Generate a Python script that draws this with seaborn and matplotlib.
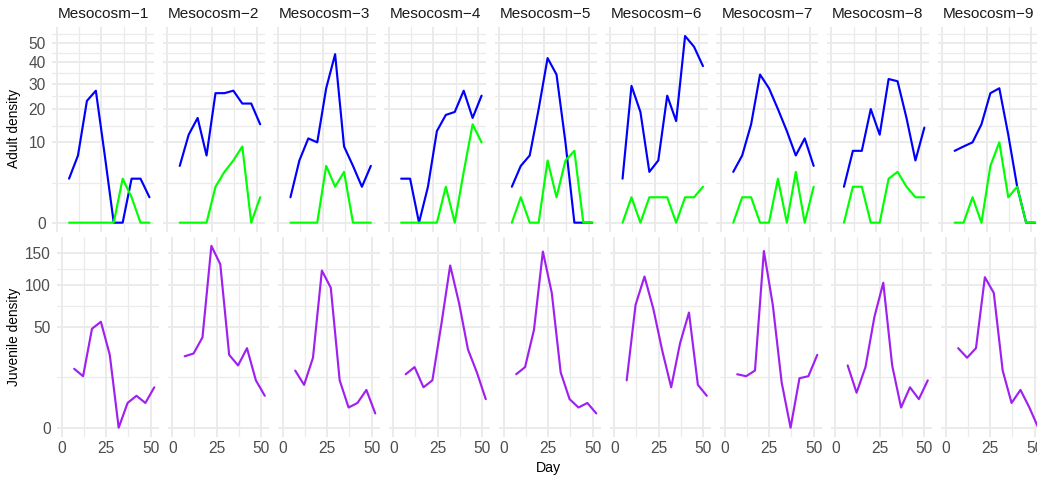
import numpy as np
import pandas as pd
import matplotlib
matplotlib.use("Agg")
import matplotlib.pyplot as plt
from matplotlib.ticker import FixedLocator, NullFormatter
import seaborn as sns

# ---- data -------------------------------------------------------------
mesocosms = [f"Mesocosm\u2212{i}" for i in range(1, 10)]
days = [7, 12, 17, 22, 27, 32, 37, 42, 47, 52]

# adult density, blue series (one row per mesocosm)
adult_blue = [
    [3, 7, 23, 27, 7, 0, 0, 3, 3, 1],
    [5, 12, 17, 7, 26, 26, 27, 22, 22, 15],
    [1, 6, 11, 10, 28, 44, 9, 5, 2, 5],
    [3, 3, 0, 2, 13, 18, 19, 27, 17, 25],
    [2, 5, 7, 20, 42, 34, 10, 0, 0, 0],
    [3, 29, 19, 4, 6, 25, 16, 54, 48, 38],
    [4, 7, 15, 34, 28, 20, 13, 7, 11, 5],
    [2, 8, 8, 20, 12, 32, 31, 17, 6, 14],
    [8, 9, 10, 15, 26, 28, 12, 2, 0, 0],
]

# adult density, green series
adult_green = [
    [0, 0, 0, 0, 0, 0, 3, 1, 0, 0],
    [0, 0, 0, 0, 2, 4, 6, 9, 0, 1],
    [0, 0, 0, 0, 5, 2, 4, 0, 0, 0],
    [0, 0, 0, 0, 0, 2, 0, 4, 15, 10],
    [0, 1, 0, 0, 6, 1, 6, 8, 0, 0],
    [0, 1, 0, 1, 1, 1, 0, 1, 1, 2],
    [0, 1, 1, 0, 0, 3, 0, 4, 0, 2],
    [0, 2, 2, 0, 0, 3, 4, 2, 1, 1],
    [0, 0, 1, 0, 5, 10, 1, 2, 0, 0],
]

# juvenile density
juvenile = [
    [17, 13, 48, 55, 26, 0, 3, 5, 3, 8],
    [25, 27, 40, 162, 131, 26, 19, 31, 11, 5],
    [16, 9, 24, 121, 96, 11, 2, 3, 7, 1],
    [14, 18, 8, 11, 52, 129, 76, 30, 15, 4],
    [14, 18, 47, 152, 89, 15, 4, 2, 3, 1],
    [11, 74, 112, 69, 29, 8, 35, 65, 9, 5],
    [14, 13, 16, 153, 74, 10, 0, 12, 13, 26],
    [19, 6, 18, 60, 103, 19, 2, 8, 4, 11],
    [31, 24, 31, 111, 89, 16, 3, 7, 2, 0],
]

adult_ticks = [0, 10, 20, 30, 40, 50]
juvenile_ticks = [0, 50, 100, 150]
day_ticks = [0, 25, 50]

# ---- long tables ------------------------------------------------------
rows = []
for m, name in enumerate(mesocosms):
    for d, b, g in zip(days, adult_blue[m], adult_green[m]):
        rows.append((name, d, "blue", b))
        rows.append((name, d, "green", g))
adults = pd.DataFrame(rows, columns=["Mesocosm", "Day", "Series", "Density"])

rows = []
for m, name in enumerate(mesocosms):
    for d, j in zip(days, juvenile[m]):
        rows.append((name, d, j))
juveniles = pd.DataFrame(rows, columns=["Mesocosm", "Day", "Density"])

# ---- style ------------------------------------------------------------
sns.set_style("white")
plt.rcParams["font.family"] = ["Liberation Sans", "DejaVu Sans"]

W, H = 1037, 480
fig = plt.figure(figsize=(W / 100, H / 100), dpi=100)


def fwd(v):
    v = np.asarray(v, dtype=float)
    return np.sign(v) * np.sqrt(np.abs(v))


def inv(v):
    v = np.asarray(v, dtype=float)
    return np.sign(v) * v ** 2


GRID = "#EBEBEB"
TICK_COL = "#4D4D4D"
LW = 1.55


def add_ax(left, top, width, height):
    return fig.add_axes([left / W, (H - top - height) / H, width / W, height / H])


def style_axis(ax, vmax, yticks, show_y, show_x):
    # sqrt scale with 5% padding in transformed space
    smax = np.sqrt(vmax)
    ax.set_yscale("function", functions=(fwd, inv))
    ax.set_ylim(inv(-0.05 * smax), inv(1.05 * smax))
    xlo, xhi = 0, max(days)
    span = xhi - xlo
    ax.set_xlim(xlo - 0.05 * span, xhi + 0.05 * span)

    s = np.sqrt(np.array(yticks, dtype=float))
    mids = list((s[:-1] + s[1:]) / 2) + [s[-1] + (s[-1] - s[-2]) / 2]
    ax.yaxis.set_major_locator(FixedLocator(yticks))
    ax.yaxis.set_minor_locator(FixedLocator([m ** 2 for m in mids]))
    ax.xaxis.set_major_locator(FixedLocator(day_ticks))
    ax.xaxis.set_minor_locator(FixedLocator([12.5, 37.5]))
    ax.yaxis.set_minor_formatter(NullFormatter())
    ax.xaxis.set_minor_formatter(NullFormatter())

    ax.grid(True, which="major", color=GRID, linewidth=1.4)
    ax.grid(True, which="minor", color=GRID, linewidth=0.9)
    ax.set_axisbelow(True)
    for sp in ax.spines.values():
        sp.set_visible(False)
    ax.tick_params(which="both", length=0)
    ax.tick_params(axis="y", labelsize=11.2, labelcolor=TICK_COL, pad=4.5,
                   labelleft=show_y)
    ax.tick_params(axis="x", labelsize=11.2, labelcolor=TICK_COL, pad=3,
                   labelbottom=show_x)
    ax.set_xlabel("")
    ax.set_ylabel("")


adult_max = adults["Density"].max()
juv_max = juveniles["Density"].max()

for i, name in enumerate(mesocosms):
    # adult row
    ax = add_ax(51.9 + i * 110.7, 26.7, 102.2, 205.3)
    sns.lineplot(data=adults[adults["Mesocosm"] == name], x="Day", y="Density",
                 hue="Series", hue_order=["blue", "green"],
                 palette={"blue": "#0000FF", "green": "#00FF00"},
                 estimator=None, sort=False, linewidth=LW, legend=False, ax=ax)
    style_axis(ax, adult_max, adult_ticks, show_y=(i == 0), show_x=False)
    ax.set_title(name, fontsize=11.1, color="#1A1A1A", pad=6)

    # juvenile row
    ax = add_ax(57.1 + i * 110.5, 236.8, 101.8, 200.0)
    sns.lineplot(data=juveniles[juveniles["Mesocosm"] == name], x="Day",
                 y="Density", color="#A020F0", estimator=None, sort=False,
                 linewidth=LW, ax=ax)
    style_axis(ax, juv_max, juvenile_ticks, show_y=(i == 0), show_x=True)

fig.text(14 / W, 1 - 129 / H, "Adult density", rotation=90, ha="center",
         va="center", fontsize=9.9, color="black")
fig.text(14 / W, 1 - 337 / H, "Juvenile density", rotation=90, ha="center",
         va="center", fontsize=9.9, color="black")
fig.text(548 / W, 1 - 468 / H, "Day", ha="center", va="center",
         fontsize=10.2, color="black")

fig.savefig("out.png", dpi=100)
